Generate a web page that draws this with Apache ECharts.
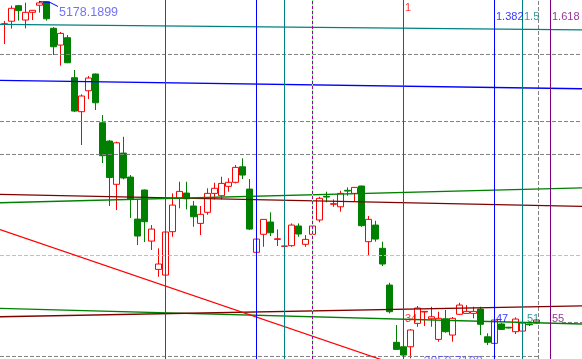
<!DOCTYPE html>
<html><head><meta charset="utf-8">
<script src="https://cdn.jsdelivr.net/npm/echarts@6/dist/echarts.min.js"></script>
<style>html,body{margin:0;padding:0;background:#fff;overflow:hidden}#c{width:582px;height:359px}</style>
</head><body><div id="c"></div>
<script>
// ---- data (bar index = position on the time axis) ----
const barOpen  = [5028,5046,5147,5054,5104,5150,5173,5000,4891,4939,4679,4458,4594,4703,4386,4267,3986,4189,4033,3760,3949,3617,3433,3396,3678,3895,3929,3845,3732,3804,3927,3912,3973,3999,4100,3955,3544,3661,3741,3628,3583,3587,3715,3596,3661,3754,3908,3856,3840,3947,3927,3975,3613,3721,3570,3331,2959,2930,2930,3082,3156,3112,2978,3112,3006,3141,3147,3147,3175,2995,2952,3078,3057,3028,3032,3078,3084];
const barClose = [5029,5130,5115,5104,5117,5165,5062,4880,4967,4776,4462,4560,4677,4516,4172,4030,4256,4027,3888,3650,3743,3695,3468,3676,3851,3940,3892,3775,3791,3927,3960,3992,3999,4096,4046,3695,3630,3758,3671,3632,3585,3721,3663,3628,3715,3895,3903,3860,3927,3942,3966,3717,3758,3630,3468,3158,2913,2876,3039,3182,3160,3125,3115,3028,3115,3201,3160,3160,3076,2959,3104,3043,3052,3110,3084,3073,3104];
const barLow   = [4898,4998,5050,5000,5054,5102,5050,4826,4757,4774,4456,4241,4540,4469,4124,3845,3819,4018,3767,3591,3611,3559,3385,3393,3645,3830,3823,3710,3656,3788,3888,3888,3938,3992,4020,3689,3539,3580,3650,3585,3582,3580,3645,3580,3656,3739,3869,3840,3808,3912,3877,3710,3520,3613,3455,3147,2909,2857,2855,3060,3065,3060,2963,3021,2963,3136,3145,3115,3006,2941,2950,3039,3049,3013,3026,3065,3081];
const barHigh  = [5048,5147,5152,5167,5119,5178.19,5177,5008,4976,4956,4729,4571,4690,4706,4436,4274,4263,4295,4046,3890,3952,3721,3570,3702,3927,4003,4003,3877,3845,3960,3996,4035,4025,4111,4155,4020,3637,3760,3804,3693,3586,3732,3732,3656,3721,3905,3938,3888,3944,3966,3968,3977,3780,3749,3613,3346,3071,2941,3045,3195,3161,3190,3158,3169,3123,3216,3201,3190,3190,3017,3117,3084,3059,3121,3097,3081,3110];

// Fibonacci time zones (bar index of each line)
const fibBars   = [23, 36, 40, 44, 57, 70, 74, 78];
const fibLevels = ['0', '0.382', '0.5', '0.618', '1', '1.382', '1.5', '1.618'];
const fibCounts = ['0', '13', '17', '21', '34', '47', '51', '55'];

// trend lines: [bar, price] end points
const trendTeal     = [[-0.643, 5025], [82.5, 4990]];
const trendBlue     = [[-0.643, 4661], [82.5, 4607]];
const trendMaroonHi = [[-0.643, 3920], [82.5, 3842]];
const trendGreenHi  = [[-0.643, 3866], [82.5, 3963]];
const trendGreenLo  = [[-0.643, 3179], [82.5, 3078]];
const trendMaroonLo = [[-0.643, 3125], [82.5, 3196]];
const trendRed      = [[-0.643, 3692], [82.5, 2401]];
const leaderBlue    = [[4.93, 5174], [6.5, 5168], [7.64, 5142]];

// horizontal levels
const levelsGray = [4830, 4394, 4180];
const levelBlue  = 3523;
const levelLow   = 2867;
const levelAsk   = 3088;
const shiftBar   = 76.29;

const highText = '5178.1899';
const lowText  = '2850.7100';

// ---- chart ----
const X_MIN = -4.5/7, X_MAX = 577.5/7, Y_MIN = 2850.5, Y_MAX = 5184;
const FONT = "'Liberation Sans', Arial, sans-serif";
const chart = echarts.init(document.getElementById('c'), null, {renderer: 'canvas'});

function line(points, color, type, z, width) {
  return {type: 'line', data: points, symbol: 'none', silent: true, z: z || 3,
    lineStyle: {color: color, width: width || 1, type: type || 'solid'}, animation: false};
}
function label(x, y, text, color, size, dist) {
  return {type: 'scatter', data: [[x, y]], symbolSize: 1, itemStyle: {color: 'rgba(0,0,0,0)'},
    clip: false, silent: true, z: 10, zlevel: 1,
    label: {show: true, position: 'right', distance: dist, formatter: text, color: color,
      fontFamily: FONT, fontSize: size}};
}

const candles = barOpen.map((o, i) => [i, o, barClose[i], barLow[i], barHigh[i]]);
const fibColors = ['#ff0000', '#0000ff', '#008080', '#990099', '#ff0000', '#0000ff', '#008080', '#800080'];

const series = [{
  type: 'candlestick', data: candles, barWidth: 6, z: 2,
  itemStyle: {color: '#ffffff', color0: '#008000', borderColor: '#ff0000', borderColor0: '#008000', borderWidth: 1}
}];

levelsGray.forEach(v => series.push(line([[X_MIN, v], [X_MAX, v]], '#808080', [4, 2])));
series.push(line([[X_MIN, levelBlue], [X_MAX, levelBlue]], '#a8c4e2', [4, 2]));
series.push(line([[X_MIN, levelLow], [shiftBar, levelLow]], '#808080', [4, 2]));
series.push(line([[79.64, levelAsk], [X_MAX, levelAsk]], '#808080', [4, 2]));
series.push(line([[shiftBar, Y_MIN], [shiftBar, Y_MAX]], '#808080', [4, 2]));

series.push(line(trendTeal, '#008080', 'solid', 3, 1.3));
series.push(line(trendBlue, '#0000ff', 'solid', 3, 1.3));
series.push(line(trendMaroonHi, '#800000', 'solid', 3, 1.3));
series.push(line(trendGreenHi, '#008000', 'solid', 3, 1.3));
series.push(line(trendGreenLo, '#008000', 'solid', 3, 1.3));
series.push(line(trendMaroonLo, '#800000', 'solid', 3, 1.3));
series.push(line(trendRed, '#ff0000', 'solid', 3, 1.2));
series.push(line(leaderBlue, '#0000ff'));

fibBars.forEach((b, k) => {
  const pts = [[b, Y_MIN], [b, Y_MAX]];
  if (fibLevels[k] === '0.618') {
    series.push(line(pts, '#80ff80', 'solid', 4));
    series.push(line(pts, '#990099', [3, 2], 4));
  } else {
    series.push(line(pts, fibColors[k], 'solid', 4));
  }
  if (parseFloat(fibLevels[k]) >= 1) {
    const topY = fibLevels[k] === '1' ? 5135 : 5073.5;
    series.push(label(b, topY, fibLevels[k], fibColors[k], 11, 1));
    series.push(label(b, 3112.5, fibCounts[k], fibColors[k], 11, fibCounts[k] === '51' ? 4 : 1));
  }
});

series.push(label(7.71, 5099.5, highText, '#4f4ff5', 12.5, 0));
series.push(label(59.79, 2831, lowText, '#4f4ff5', 12.5, 0));

chart.setOption({
  animation: false,
  backgroundColor: '#ffffff',
  grid: {left: 0, top: 0, width: 582, height: 359, containLabel: false},
  xAxis: {type: 'value', min: X_MIN, max: X_MAX, show: false, splitLine: {show: false}},
  yAxis: {type: 'value', min: Y_MIN, max: Y_MAX, show: false, splitLine: {show: false}, scale: true},
  series: series
});
</script></body></html>
